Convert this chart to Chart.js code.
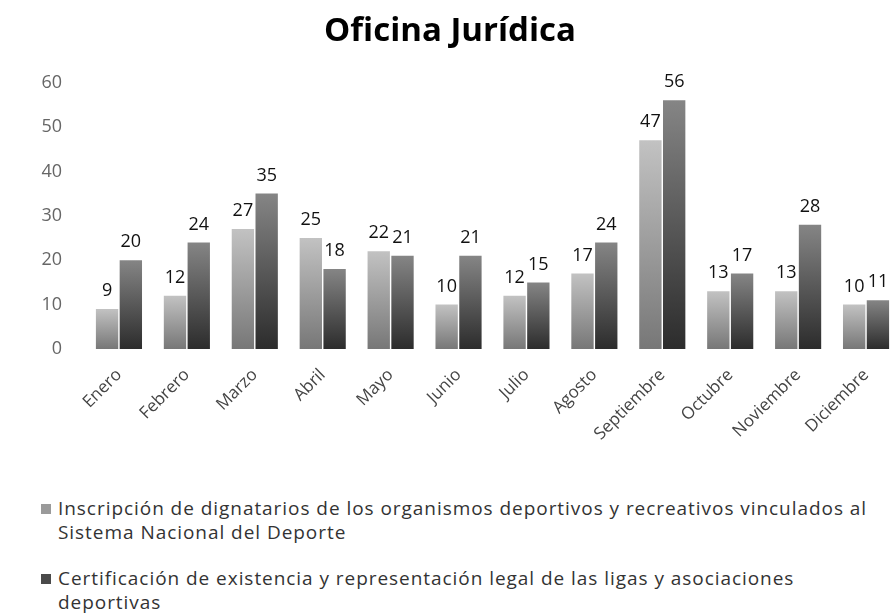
<!DOCTYPE html>
<html>
<head>
<meta charset="utf-8">
<script src="https://cdn.jsdelivr.net/npm/chart.js@4.4.1/dist/chart.umd.min.js"></script>
<style>
  html, body { margin: 0; padding: 0; background: #fff; overflow: hidden; }
  #wrap { position: relative; width: 900px; height: 460px; }
  .legend { position: absolute; left: 41px; width: 850px; font-family: "Open Sans", sans-serif; font-size: 19px; letter-spacing: 0.95px; color: #333; line-height: 24px; white-space: nowrap; }
  .legend .item { position: relative; padding-left: 17px; }
  .legend .box { position: absolute; left: 0; top: 8px; width: 10px; height: 10px; }
</style>
</head>
<body>
<div id="wrap"><canvas id="chart" width="900" height="460"></canvas></div>
<div class="legend" style="top:496px">
  <div class="item" id="item0"><span class="box" style="background:#9a9a9a"></span></div>
  <div class="item" id="item1" style="margin-top:22px"><span class="box" style="background:#4a4a4a"></span></div>
</div>
<script>
const months = ["Enero", "Febrero", "Marzo", "Abril", "Mayo", "Junio", "Julio", "Agosto", "Septiembre", "Octubre", "Noviembre", "Diciembre"];
const inscripcion = [9, 12, 27, 25, 22, 10, 12, 17, 47, 13, 13, 10];
const certificacion = [20, 24, 35, 18, 21, 21, 15, 24, 56, 17, 28, 11];
const yTicks = [0, 10, 20, 30, 40, 50, 60];
// legend texts, split where the original wraps
const seriesLines = [
  ["Inscripción de dignatarios de los organismos deportivos y recreativos vinculados al", "Sistema Nacional del Deporte"],
  ["Certificación de existencia y representación legal de las ligas y asociaciones", "deportivas"]
];

seriesLines.forEach(function (lines, i) {
  const item = document.getElementById("item" + i);
  lines.forEach(function (line, k) {
    if (k > 0) item.appendChild(document.createElement("br"));
    item.appendChild(document.createTextNode(line));
  });
});

// gradient per bar, lighter at top
function barGradient(top, bottom) {
  return function (context) {
    const chart = context.chart;
    if (context.type !== "data" || !chart.chartArea) return bottom;
    const y = chart.scales.y;
    const yTop = y.getPixelForValue(context.raw);
    const yBase = y.getPixelForValue(0);
    const g = chart.ctx.createLinearGradient(0, yTop, 0, yBase);
    g.addColorStop(0, top);
    g.addColorStop(1, bottom);
    return g;
  };
}

const valueLabels = {
  id: "valueLabels",
  afterDatasetsDraw(chart) {
    const ctx = chart.ctx;
    ctx.save();
    ctx.font = "18px 'Open Sans', sans-serif";
    ctx.fillStyle = "#111";
    ctx.textAlign = "center";
    ctx.textBaseline = "bottom";
    chart.data.datasets.forEach(function (ds, i) {
      chart.getDatasetMeta(i).data.forEach(function (bar, j) {
        ctx.fillText(ds.data[j], bar.x, bar.y - 9);
      });
    });
    ctx.restore();
  },
};

new Chart(document.getElementById("chart"), {
  type: "bar",
  data: {
    labels: months,
    datasets: [
      {
        label: seriesLines[0].join(" "),
        data: inscripcion,
        backgroundColor: barGradient("#c2c2c2", "#777777"),
        categoryPercentage: 0.7,
        barPercentage: 0.94,
      },
      {
        label: seriesLines[1].join(" "),
        data: certificacion,
        backgroundColor: barGradient("#858585", "#2c2c2c"),
        categoryPercentage: 0.7,
        barPercentage: 0.94,
      },
    ],
  },
  plugins: [valueLabels],
  options: {
    responsive: false,
    animation: false,
    layout: { padding: 0 },
    plugins: {
      legend: { display: false },
      tooltip: { enabled: false },
      title: {
        display: true,
        text: "Oficina Jurídica",
        color: "#000",
        font: { family: "'Open Sans', sans-serif", size: 33, weight: "bold" },
        padding: { top: 12, bottom: 31 },
      },
    },
    scales: {
      y: {
        min: 0,
        max: 60,
        afterFit(scale) { scale.width = 85; },
        afterBuildTicks(scale) { scale.ticks = yTicks.map(function (v) { return { value: v }; }); },
        grid: { display: false, drawTicks: false },
        border: { display: false },
        ticks: {
          padding: 23,
          color: "#666",
          font: { family: "'Open Sans', sans-serif", size: 18 },
        },
      },
      x: {
        afterFit(scale) { scale.height = 111; },
        grid: { display: false, drawTicks: false },
        border: { display: false },
        ticks: {
          minRotation: 45,
          maxRotation: 45,
          padding: 16,
          color: "#444",
          font: { family: "'Open Sans', sans-serif", size: 17 },
        },
      },
    },
  },
});
</script>
</body>
</html>
